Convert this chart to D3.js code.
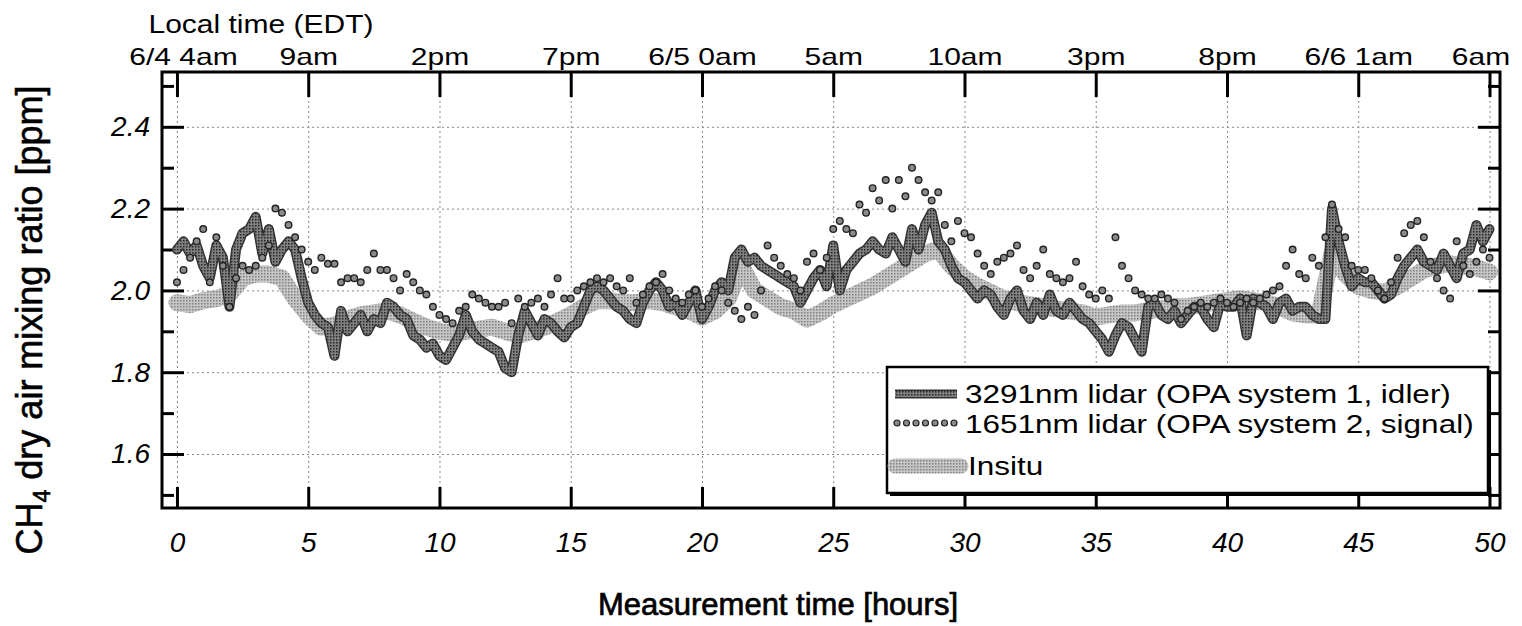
<!DOCTYPE html>
<html>
<head>
<meta charset="utf-8">
<script src="https://cdn.jsdelivr.net/npm/d3@7"></script>
<style>
    body { margin: 0; background: #fff; }
    svg text { font-family: "Liberation Sans", Arial, sans-serif; fill: #000; }
    .grid line { stroke: #888; stroke-width: 1; stroke-dasharray: 2,3; }
    .ticks line { stroke: #000; stroke-width: 3; }
</style>
</head>
<body>
<script>
// CH4 mixing ratio time series (lidar vs insitu)

// Space and plot frame
const w = 1522;
const h = 626;
const plotL = 162, plotR = 1500, plotT = 72, plotB = 508;

// Tick values and labels
const xTicks = [0, 5, 10, 15, 20, 25, 30, 35, 40, 45, 50];
const localLabels = ["6/4 4am", "9am", "2pm", "7pm", "6/5 0am", "5am", "10am", "3pm", "8pm", "6/6 1am", "6am"];
const yTicks = [1.6, 1.8, 2.0, 2.2, 2.4];
const yMinorTicks = [1.5, 1.7, 1.9, 2.1, 2.3, 2.5];
const legendLabels = ["3291nm lidar (OPA system 1, idler)", "1651nm lidar (OPA system 2, signal)", "Insitu"];

// Sampling step (hours) of each series
const lidarStep = 0.25;
const signalStep = 0.25;
const insituStep = 0.5;

// 3291nm lidar (one row per hour)
const lidar3291 = [
    2.10, 2.12, 2.09, 2.11,
    2.06, 2.03, 2.11, 2.08,
    1.96, 2.10, 2.14, 2.15,
    2.18, 2.09, 2.15, 2.07,
    2.10, 2.12, 2.10, 2.03,
    1.97, 1.94, 1.92, 1.91,
    1.84, 1.95, 1.90, 1.92,
    1.94, 1.90, 1.93, 1.92,
    1.97, 1.96, 1.94, 1.93,
    1.89, 1.88, 1.86, 1.87,
    1.84, 1.83, 1.86, 1.89,
    1.94, 1.90, 1.88, 1.87,
    1.86, 1.85, 1.81, 1.80,
    1.89, 1.95, 1.92, 1.89,
    1.93, 1.92, 1.90, 1.885,
    1.91, 1.92, 1.96, 2.00,
    2.01, 2.00, 1.98, 1.96,
    1.95, 1.93, 1.92, 1.97,
    2.00, 2.02, 2.00, 1.96,
    1.97, 1.94, 1.97, 2.00,
    1.93, 1.96, 2.00, 2.02,
    2.00, 2.08, 2.10, 2.07,
    2.08, 2.06, 2.05, 2.04,
    2.03, 2.02, 2.01, 1.97,
    2.00, 2.03, 2.05, 2.01,
    2.11, 2.00, 2.05, 2.07,
    2.09, 2.10, 2.12, 2.10,
    2.09, 2.13, 2.10, 2.07,
    2.15, 2.10, 2.16, 2.19,
    2.12, 2.10, 2.06, 2.03,
    2.02, 2.00, 1.98, 2.00,
    1.99, 1.96, 1.94, 1.98,
    2.00, 1.95, 1.93, 1.97,
    1.94, 1.99, 1.95, 1.94,
    1.97, 1.95, 1.93, 1.92,
    1.90, 1.88, 1.85, 1.89,
    1.92, 1.91, 1.88, 1.85,
    1.96, 1.97, 1.94, 1.93,
    1.95, 1.92, 1.94, 1.96,
    1.96, 1.93, 1.91, 1.97,
    1.96, 1.96, 1.98, 1.89,
    1.98, 1.97, 1.96, 1.93,
    1.97, 1.98, 1.95, 1.96,
    1.96, 1.94, 1.93, 1.93,
    2.20, 2.12, 2.06, 2.01,
    2.03, 2.02, 2.02, 2.00,
    1.98, 1.99, 2.03, 2.06,
    2.08, 2.10, 2.07, 2.06,
    2.05, 2.09, 2.06, 2.03,
    2.09, 2.10, 2.16, 2.12,
    2.15
];

// 1651nm lidar (one row per hour)
const lidar1651 = [
    2.02, 2.05, 2.08, 2.12,
    2.15, 2.02, 2.13, 2.06,
    1.96, 2.03, 2.06, 2.05,
    2.06, 2.08, 2.11, 2.20,
    2.19, 2.16, 2.13, 2.10,
    2.07, 2.05, 2.08, 2.065,
    2.065, 2.02, 2.03, 2.03,
    2.02, 2.05, 2.09, 2.05,
    2.05, 2.03, 2.00, 2.04,
    2.02, 2.00, 1.99, 1.96,
    1.94, 1.93, 1.92, 1.95,
    1.96, 1.99, 1.98, 1.97,
    1.96, 1.96, 1.97, 1.92,
    1.98, 1.96, 1.97, 1.98,
    1.96, 1.99, 2.03, 1.98,
    1.98, 2.00, 2.01, 2.02,
    2.03, 2.02, 2.03, 2.01,
    2.00, 2.03, 1.97, 1.99,
    2.01, 2.02, 2.04, 2.00,
    1.98, 1.97, 1.99, 2.00,
    1.96, 1.98, 2.01, 2.00,
    1.97, 1.95, 1.93, 1.96,
    1.94, 2.00, 2.11, 2.08,
    2.06, 2.04, 2.03, 2.00,
    2.07, 2.09, 2.05, 2.08,
    2.15, 2.17, 2.15, 2.14,
    2.21, 2.19, 2.25, 2.22,
    2.27, 2.20, 2.27, 2.23,
    2.30, 2.27, 2.24, 2.22,
    2.24, 2.16, 2.12, 2.17,
    2.14, 2.13, 2.09, 2.06,
    2.04, 2.07, 2.08, 2.09,
    2.11, 2.05, 2.03, 2.06,
    2.10, 2.04, 2.03, 2.02,
    2.03, 2.07, 2.01, 1.99,
    1.98, 2.00, 1.98, 2.13,
    2.06, 2.03, 2.00, 1.99,
    1.98, 1.98, 1.99, 1.98,
    1.97, 1.93, 1.95, 1.96,
    1.97, 1.96, 1.97, 1.98,
    1.97, 1.96, 1.97, 1.98,
    1.97, 1.98, 1.99, 2.00,
    2.01, 2.06, 2.10, 2.04,
    2.03, 2.08, 2.06, 2.13,
    2.21, 2.15, 2.13, 2.06,
    2.05, 2.05, 2.03, 2.00,
    1.98, 2.02, 2.08, 2.14,
    2.16, 2.17, 2.13, 2.07,
    2.03, 2.00, 1.98, 2.12,
    2.06, 2.04, 2.07, 2.10,
    2.08
];

// Insitu (one row per hour)
const insitu = [
    1.97, 1.965,
    1.975, 1.98,
    1.99, 2.03,
    2.04, 2.04,
    2.03, 1.98,
    1.94, 1.91,
    1.915, 1.93,
    1.94, 1.945,
    1.95, 1.94,
    1.925, 1.91,
    1.90, 1.895,
    1.90, 1.905,
    1.91, 1.90,
    1.89, 1.90,
    1.91, 1.925,
    1.94, 1.96,
    1.975, 1.975,
    1.97, 1.97,
    1.975, 1.97,
    1.96, 1.95,
    1.935, 1.95,
    1.98, 2.06,
    2.00, 1.98,
    1.96, 1.95,
    1.93, 1.945,
    1.965, 1.98,
    1.995, 2.01,
    2.03, 2.05,
    2.07, 2.09,
    2.10, 2.06,
    2.03, 2.01,
    1.995, 1.98,
    1.97, 1.965,
    1.96, 1.955,
    1.95, 1.945,
    1.935, 1.94,
    1.945, 1.945,
    1.95, 1.955,
    1.96, 1.96,
    1.965, 1.97,
    1.975, 1.98,
    1.975, 1.97,
    1.96, 1.945,
    1.94, 1.94,
    2.09, 2.04,
    2.01, 2.00,
    1.995, 2.01,
    2.03, 2.05,
    2.06, 2.065,
    2.06, 2.055,
    2.045
];

// Scales
const xScale = d3.scaleLinear()
                 .domain([-0.57, 50.4])
                 .range([plotL, plotR]);
const yScale = d3.scaleLinear()
                 .domain([1.468, 2.534])
                 .range([plotB, plotT]);

// SVG Container
const svg = d3.select("body")
              .append("svg")
              .attr("width", w)
              .attr("height", h);

// Halftone textures
const defs = svg.append("defs");
const lidarTex = defs.append("pattern").attr("id", "lidarTex")
    .attr("width", 3).attr("height", 3).attr("patternUnits", "userSpaceOnUse");
lidarTex.append("rect").attr("width", 3).attr("height", 3).attr("fill", "#808080");
lidarTex.append("rect").attr("width", 1.5).attr("height", 1.5).attr("fill", "#262626");
const insituTex = defs.append("pattern").attr("id", "insituTex")
    .attr("width", 3).attr("height", 3).attr("patternUnits", "userSpaceOnUse");
insituTex.append("rect").attr("width", 3).attr("height", 3).attr("fill", "#c6c6c6");
insituTex.append("rect").attr("width", 1.5).attr("height", 1.5).attr("fill", "#808080");

// Grid lines
svg.append("g")
   .attr("class", "grid")
   .attr("transform", "translate(0," + plotB + ")")
   .call(d3.axisBottom(xScale).tickValues(xTicks).tickSize(-(plotB - plotT)).tickFormat(""))
   .call(g => g.select(".domain").remove());
svg.append("g")
   .attr("class", "grid")
   .attr("transform", "translate(" + plotL + ",0)")
   .call(d3.axisLeft(yScale).tickValues(yTicks).tickSize(-(plotR - plotL)).tickFormat(""))
   .call(g => g.select(".domain").remove());

// Axis helper: inward ticks, no domain line
function drawAxis(axis, tx, ty) {
    return svg.append("g")
              .attr("class", "ticks")
              .attr("transform", "translate(" + tx + "," + ty + ")")
              .call(axis)
              .call(g => g.select(".domain").remove());
}

// Bottom axis
const bottomAxis = drawAxis(d3.axisBottom(xScale).tickValues(xTicks).tickSizeInner(-21).tickSizeOuter(0)
                              .tickPadding(24).tickFormat(d3.format("d")), 0, plotB);
bottomAxis.selectAll("text")
          .attr("font-size", 28).attr("font-style", "italic");

// Top axis (local time)
const topAxis = drawAxis(d3.axisTop(xScale).tickValues(xTicks).tickSizeInner(-25).tickSizeOuter(0)
                           .tickPadding(7).tickFormat((d, i) => localLabels[i]), 0, plotT);
topAxis.selectAll("text")
       .attr("font-size", 24)
       .attr("transform", (d, i) => "translate(" + (i === 0 ? 6 : i === xTicks.length - 1 ? -9 : 0) + ",0) scale(1.25,1)");

// Left axis
const leftAxis = drawAxis(d3.axisLeft(yScale).tickValues(yTicks).tickSizeInner(-22).tickSizeOuter(0)
                            .tickPadding(12).tickFormat(d3.format(".1f")), plotL, 0);
leftAxis.selectAll("text")
        .attr("font-size", 28).attr("font-style", "italic");
drawAxis(d3.axisLeft(yScale).tickValues(yMinorTicks).tickSizeInner(-12).tickSizeOuter(0).tickFormat(""), plotL, 0);

// Right axis
drawAxis(d3.axisRight(yScale).tickValues(yTicks).tickSizeInner(-22).tickSizeOuter(0).tickFormat(""), plotR, 0);
drawAxis(d3.axisRight(yScale).tickValues(yMinorTicks).tickSizeInner(-12).tickSizeOuter(0).tickFormat(""), plotR, 0);

// Line generator
const line = d3.line()
               .x(d => xScale(d.t))
               .y(d => yScale(d.v));
const toPoints = (vals, step) => vals.map((v, i) => ({ t: i * step, v: v }));

// Insitu band
svg.append("path")
   .datum(toPoints(insitu, insituStep))
   .attr("d", line)
   .attr("fill", "none")
   .attr("stroke", "url(#insituTex)")
   .attr("stroke-width", 17)
   .attr("stroke-linejoin", "round")
   .attr("stroke-linecap", "round");

// 3291nm lidar line
const lidarPts = toPoints(lidar3291, lidarStep);
svg.append("path")
   .datum(lidarPts)
   .attr("d", line)
   .attr("fill", "none")
   .attr("stroke", "#333")
   .attr("stroke-width", 10)
   .attr("stroke-linejoin", "round")
   .attr("stroke-linecap", "round");
svg.append("path")
   .datum(lidarPts)
   .attr("d", line)
   .attr("fill", "none")
   .attr("stroke", "url(#lidarTex)")
   .attr("stroke-width", 7)
   .attr("stroke-linejoin", "round")
   .attr("stroke-linecap", "round");

// 1651nm lidar dots
svg.append("g")
   .selectAll("circle")
   .data(toPoints(lidar1651, signalStep))
   .join("circle")
   .attr("cx", d => xScale(d.t))
   .attr("cy", d => yScale(d.v))
   .attr("r", 3.3)
   .attr("fill", "#8a8a8a")
   .attr("stroke", "#222")
   .attr("stroke-width", 1.4);

// Frame
svg.append("rect")
   .attr("x", plotL).attr("y", plotT)
   .attr("width", plotR - plotL).attr("height", plotB - plotT)
   .attr("fill", "none")
   .attr("stroke", "#000")
   .attr("stroke-width", 3);

// Legend box
const lg = svg.append("g").attr("transform", "translate(887,367)");
lg.append("rect")
  .attr("x", 3).attr("y", 3).attr("width", 601).attr("height", 126)
  .attr("fill", "#000");
lg.append("rect")
  .attr("width", 601).attr("height", 126)
  .attr("fill", "#fff")
  .attr("stroke", "#000")
  .attr("stroke-width", 2.5);

// Legend samples
lg.append("line")
  .attr("x1", 8).attr("x2", 70).attr("y1", 27).attr("y2", 27)
  .attr("stroke", "#333").attr("stroke-width", 9);
lg.append("line")
  .attr("x1", 8).attr("x2", 70).attr("y1", 27).attr("y2", 27)
  .attr("stroke", "url(#lidarTex)").attr("stroke-width", 6);
lg.append("g")
  .selectAll("circle")
  .data(d3.range(7))
  .join("circle")
  .attr("cx", d => 10 + d * 9.5)
  .attr("cy", 56)
  .attr("r", 3)
  .attr("fill", "#8a8a8a")
  .attr("stroke", "#222")
  .attr("stroke-width", 1.2);
lg.append("line")
  .attr("x1", 8).attr("x2", 74).attr("y1", 99).attr("y2", 99)
  .attr("stroke", "url(#insituTex)").attr("stroke-width", 15)
  .attr("stroke-linecap", "round");

// Legend labels
const legendY = [36, 66, 108];
lg.selectAll("text.legend")
  .data(legendLabels)
  .join("text")
  .attr("class", "legend")
  .attr("transform", (d, i) => "translate(" + (i === 2 ? 81 : 78) + "," + legendY[i] + ") scale(1.26,1)")
  .attr("font-size", 25)
  .text(d => d);

// Top title
svg.append("text")
   .attr("transform", "translate(261,33) scale(1.2,1)")
   .attr("text-anchor", "middle")
   .attr("font-size", 25)
   .text("Local time (EDT)");

// X-Axis Label
svg.append("text")
   .attr("x", 778)
   .attr("y", 615)
   .attr("text-anchor", "middle")
   .attr("font-size", 31)
   .attr("stroke", "#000")
   .attr("stroke-width", 0.7)
   .text("Measurement time [hours]");

// Y-Axis Label
const yLabel = svg.append("text")
   .attr("transform", "translate(42,320) rotate(-90)")
   .attr("text-anchor", "middle")
   .attr("font-size", 36)
   .attr("stroke", "#000")
   .attr("stroke-width", 0.6);
yLabel.append("tspan").text("CH");
yLabel.append("tspan").attr("font-size", 23).attr("dy", 8).text("4");
yLabel.append("tspan").attr("dy", -8).text(" dry air mixing ratio [ppm]");
</script>
</body>
</html>
